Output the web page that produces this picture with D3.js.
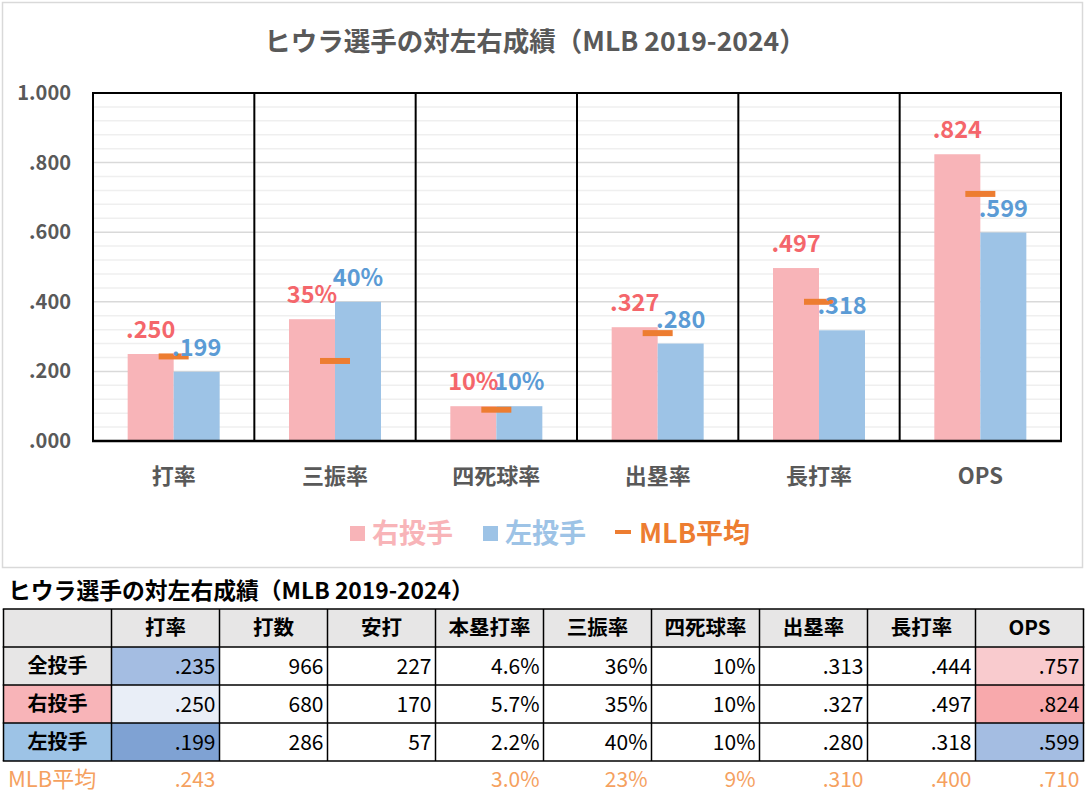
<!DOCTYPE html>
<html><head><meta charset="utf-8">
<script src="https://cdn.jsdelivr.net/npm/d3@7"></script>
<style>
body{margin:0;background:#fff;}
svg{display:block;font-family:"Noto Sans CJK JP","Noto Sans",sans-serif;}
</style></head>
<body>
<svg id="c" width="1086" height="793"></svg>
<script>
// ---- data ----
const chartTitle = "ヒウラ選手の対左右成績（MLB 2019-2024）";
const categories = ["打率","三振率","四死球率","出塁率","長打率","OPS"];
const rightVals = [0.250,0.35,0.10,0.327,0.497,0.824];
const leftVals  = [0.199,0.40,0.10,0.280,0.318,0.599];
const mlbVals   = [0.243,0.23,0.09,0.310,0.400,0.710];
const rightLabels = [".250","35%","10%",".327",".497",".824"];
const leftLabels  = [".199","40%","10%",".280",".318",".599"];
const yTicks = [0,0.2,0.4,0.6,0.8,1.0];
const yTickLabels = [".000",".200",".400",".600",".800","1.000"];
const seriesNames = ["右投手","左投手","MLB平均"];

const tableHeaders = ["","打率","打数","安打","本塁打率","三振率","四死球率","出塁率","長打率","OPS"];
const rowNames = ["全投手","右投手","左投手"];
const rowAll   = [".235","966","227","4.6%","36%","10%",".313",".444",".757"];
const rowRight = [".250","680","170","5.7%","35%","10%",".327",".497",".824"];
const rowLeft  = [".199","286","57","2.2%","40%","10%",".280",".318",".599"];
const mlbRowName = "MLB平均";
const rowMlb   = [".243","","","3.0%","23%","9%",".310",".400",".710"];

// ---- styles ----
const C = {pink:"#f8b4b8", blue:"#9dc3e6", pinkText:"#f4666b", blueText:"#5b9bd5",
  orange:"#ed7d31", grey:"#595959", hdr:"#e7e6e6", mlbText:"#f5a15f"};
const cellFill = {
  "0-0":"#a4bde2","1-0":"#e9eef7","2-0":"#7fa2d3",
  "0-8":"#f9cbce","1-8":"#f8a9ac","2-8":"#a4bde2"
};
const rowHeadFill = [C.hdr, C.pink, C.blue];

const svg = d3.select("#c");

// outer chart frame
svg.append("rect").attr("x",2.5).attr("y",2.5).attr("width",1080).attr("height",565)
  .attr("fill","#fff").attr("stroke","#d9d9d9").attr("stroke-width",1.5);

// title
svg.append("text").attr("x",535).attr("y",51).attr("text-anchor","middle")
  .attr("font-size",26.5).attr("font-weight","bold").attr("fill",C.grey).text(chartTitle);

const L=93,R=1061,T=93,B=441;
const x = d3.scaleBand().domain(categories).range([L,R]).padding(0);
const bw = x.bandwidth();
const x1 = d3.scaleBand().domain(["r","l"]).range([(bw-92)/2,(bw+92)/2]).padding(0);
const y = d3.scaleLinear().domain([0,1]).range([B,T]);

// gridlines
const minor = d3.range(0,1.0001,0.04);
svg.append("g").selectAll("line").data(minor).join("line")
  .attr("x1",L).attr("x2",R).attr("y1",d=>y(d)).attr("y2",d=>y(d))
  .attr("stroke",d=>Math.abs(d/0.2-Math.round(d/0.2))<1e-6?"#d9d9d9":"#efefef")
  .attr("stroke-width",1.5);

// y axis labels
const yAxis = d3.axisLeft(y).tickValues(yTicks).tickSize(0).tickPadding(0)
  .tickFormat((d,i)=>yTickLabels[i]);
const ya = svg.append("g").attr("transform","translate(71,0)").call(yAxis);
ya.select(".domain").remove();
ya.selectAll("text").attr("font-size",20).attr("font-weight","bold").attr("fill",C.grey)
  .attr("font-family","'Noto Sans CJK JP',sans-serif");

// bars
const g = svg.append("g");
categories.forEach((c,i)=>{
  g.append("rect").attr("x",x(c)+x1("r")).attr("width",x1.bandwidth())
   .attr("y",y(rightVals[i])).attr("height",B-y(rightVals[i])).attr("fill",C.pink);
  g.append("rect").attr("x",x(c)+x1("l")).attr("width",x1.bandwidth())
   .attr("y",y(leftVals[i])).attr("height",B-y(leftVals[i])).attr("fill",C.blue);
});

// separators and frame
const bounds = categories.map(c=>x(c)).concat([R]);
svg.append("g").selectAll("line").data(bounds).join("line")
  .attr("x1",d=>d).attr("x2",d=>d).attr("y1",T).attr("y2",B)
  .attr("stroke","#000").attr("stroke-width",2);
svg.append("line").attr("x1",L-1).attr("x2",R+1).attr("y1",T).attr("y2",T).attr("stroke","#000").attr("stroke-width",2);
svg.append("line").attr("x1",L-1).attr("x2",R+1).attr("y1",B).attr("y2",B).attr("stroke","#000").attr("stroke-width",2.5);

// MLB markers
svg.append("g").selectAll("rect").data(mlbVals).join("rect")
  .attr("x",(d,i)=>x(categories[i])+bw/2-15).attr("width",30)
  .attr("y",d=>y(d)-3).attr("height",6).attr("fill",C.orange);

// data labels
const lab = svg.append("g").attr("font-size",23.5).attr("font-weight","bold").attr("text-anchor","middle");
categories.forEach((c,i)=>{
  lab.append("text").attr("x",x(c)+x1("r")+x1.bandwidth()/2).attr("y",y(rightVals[i])-16)
    .attr("fill",C.pinkText).text(rightLabels[i]);
  lab.append("text").attr("x",x(c)+x1("l")+x1.bandwidth()/2).attr("y",y(leftVals[i])-16)
    .attr("fill",C.blueText).text(leftLabels[i]);
});

// category labels
const xAxis = d3.axisBottom(x).tickSize(0).tickPadding(0);
const xa = svg.append("g").attr("transform","translate(0,484)").call(xAxis);
xa.select(".domain").remove();
xa.selectAll("text").attr("dy",0).attr("font-size",22).attr("font-weight","bold").attr("fill",C.grey)
  .attr("font-family","'Noto Sans CJK JP',sans-serif");

// legend
const lg = svg.append("g").attr("font-size",27).attr("font-weight","bold");
lg.append("rect").attr("x",350).attr("y",526).attr("width",15).attr("height",15).attr("fill",C.pink);
lg.append("text").attr("x",372).attr("y",543).attr("fill",C.pink).text(seriesNames[0]);
lg.append("rect").attr("x",483).attr("y",526).attr("width",15).attr("height",15).attr("fill",C.blue);
lg.append("text").attr("x",505).attr("y",543).attr("fill",C.blue).text(seriesNames[1]);
lg.append("rect").attr("x",615).attr("y",530).attr("width",16).attr("height",4).attr("fill",C.orange);
lg.append("text").attr("x",639).attr("y",543).attr("fill",C.orange).text(seriesNames[2]);

// ---- table ----
svg.append("text").attr("x",8).attr("y",599).attr("font-size",22.8).attr("font-weight","bold")
  .attr("fill","#000").text(chartTitle);

const tx0 = 3.5, cw = 108, ty0 = 609, rh = 38;
const tcols = d3.range(tableHeaders.length).map(i=>tx0+i*cw);
const trows = [ty0, ty0+rh, ty0+2*rh, ty0+3*rh];
const tg = svg.append("g");
// header
tableHeaders.forEach((h,i)=>{
  tg.append("rect").attr("x",tcols[i]).attr("y",trows[0]).attr("width",cw).attr("height",rh).attr("fill",C.hdr);
  tg.append("text").attr("x",tcols[i]+cw/2).attr("y",trows[0]+rh/2+7).attr("text-anchor","middle")
    .attr("font-size",20.5).attr("font-weight","bold").attr("fill","#000").text(h);
});
const body = [rowAll,rowRight,rowLeft];
body.forEach((row,r)=>{
  const yy = trows[r+1];
  tg.append("rect").attr("x",tcols[0]).attr("y",yy).attr("width",cw).attr("height",rh).attr("fill",rowHeadFill[r]);
  tg.append("text").attr("x",tcols[0]+cw/2).attr("y",yy+rh/2+7).attr("text-anchor","middle")
    .attr("font-size",20).attr("font-weight","bold").attr("fill","#000").text(rowNames[r]);
  row.forEach((v,ci)=>{
    const cx = tcols[ci+1];
    tg.append("rect").attr("x",cx).attr("y",yy).attr("width",cw).attr("height",rh)
      .attr("fill",cellFill[r+"-"+ci]||"#fff");
    tg.append("text").attr("x",cx+cw-4).attr("y",yy+rh/2+8).attr("text-anchor","end")
      .attr("font-size",21).attr("fill","#000").text(v);
  });
});
// grid lines of table
const tRight = tx0+cw*tableHeaders.length, tBottom = ty0+4*rh;
for(let i=0;i<=tableHeaders.length;i++){
  tg.append("line").attr("x1",tx0+i*cw).attr("x2",tx0+i*cw).attr("y1",ty0).attr("y2",tBottom)
    .attr("stroke","#000").attr("stroke-width",1.5);
}
for(let j=0;j<=4;j++){
  tg.append("line").attr("x1",tx0-0.75).attr("x2",tRight+0.75).attr("y1",ty0+j*rh).attr("y2",ty0+j*rh)
    .attr("stroke","#000").attr("stroke-width",1.5);
}
// MLB row
tg.append("text").attr("x",8).attr("y",tBottom+26).attr("font-size",22).attr("fill",C.mlbText).text(mlbRowName);
rowMlb.forEach((v,ci)=>{
  tg.append("text").attr("x",tcols[ci+1]+cw-4).attr("y",tBottom+26).attr("text-anchor","end")
    .attr("font-size",21).attr("fill",C.mlbText).text(v);
});
</script>
</body></html>
